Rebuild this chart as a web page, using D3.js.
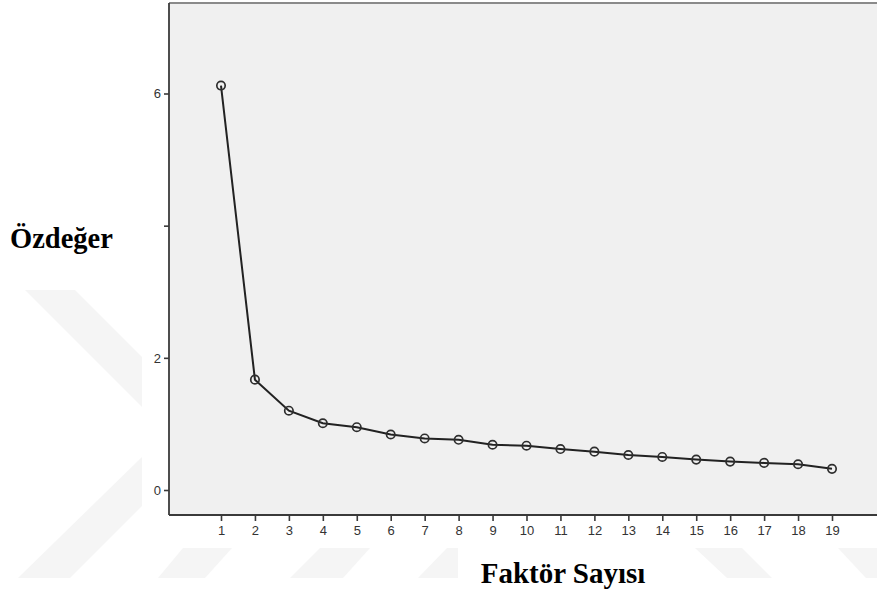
<!DOCTYPE html>
<meta charset="utf-8">
<style>
body { margin: 0; background: #fff; }
.tick text { font-family: "Liberation Sans", Arial, sans-serif; font-size: 13px; fill: #333; }
.axlabel { font-family: "Liberation Serif", "Times New Roman", serif; font-weight: bold; fill: #000; }
</style>
<svg width="877" height="592"></svg>
<script src="https://cdn.jsdelivr.net/npm/d3@7"></script>
<script>
// scree plot values
var factors = [1,2,3,4,5,6,7,8,9,10,11,12,13,14,15,16,17,18,19]
var eigen = [6.12,1.67,1.20,1.01,0.95,0.84,0.78,0.76,0.685,0.67,0.62,0.58,0.53,0.50,0.46,0.43,0.41,0.39,0.32]
var yTicks = [0,2,4,6]
var yTickLabels = ["0","2","","6"]

const svg = d3.select('svg')

// faint watermark bands behind everything
var marks = [
  [[25,290],[75,290],[142,357],[142,407]],
  [[18,578],[70,578],[142,506],[142,457]],
  [[183,548],[232,548],[205,578],[158,578]],
  [[320,548],[370,548],[343,578],[290,578]],
  [[447,548],[458,548],[458,578],[418,578]],
  [[695,548],[742,548],[772,578],[727,578]],
  [[838,548],[877,548],[877,578],[866,578]]
]
svg.append('g').selectAll('path')
  .data(marks)
  .enter().append('path')
  .attr('d', p => 'M' + p.join('L') + 'Z')
  .attr('fill', '#f5f5f5')

const pLeft = 169, pTop = 3, pRight = 880, pBottom = 515

const x = d3.scaleLinear().domain([1,19]).range([221, 832])
const y = d3.scaleLinear().domain([0,6]).range([490, 93.5])

// plot area
svg.append('rect')
  .attr('x', pLeft).attr('y', pTop)
  .attr('width', pRight-pLeft).attr('height', pBottom-pTop)
  .attr('fill', '#f0f0f0')

svg.append('line')
  .attr('x1', pLeft).attr('x2', pRight)
  .attr('y1', pTop).attr('y2', pTop)
  .attr('stroke', '#8a8a8a').attr('stroke-width', 2)

const yAxis = svg.append('g')
  .attr('transform', 'translate(' + pLeft + ',0)')
  .call(d3.axisLeft(y).tickValues(yTicks).tickSize(5).tickPadding(3)
    .tickFormat((d,i) => yTickLabels[i]))
yAxis.select('.domain').attr('d', 'M0,' + pTop + 'V' + pBottom)

const xAxis = svg.append('g')
  .attr('transform', 'translate(0,' + pBottom + ')')
  .call(d3.axisBottom(x).tickValues(factors).tickSize(6).tickPadding(5)
    .tickFormat(d3.format('d')))
xAxis.select('.domain').attr('d', 'M' + pLeft + ',0H' + pRight)

svg.selectAll('.domain').attr('stroke', '#3a3a3a').attr('stroke-width', 1.8)
svg.selectAll('.tick line').attr('stroke', '#3a3a3a').attr('stroke-width', 1.6)
svg.selectAll('.tick text').attr('fill', '#333')

// line + markers
const line = d3.line().x((d,i) => x(factors[i])).y(d => y(d))
svg.append('path')
  .datum(eigen)
  .attr('d', line)
  .attr('fill', 'none')
  .attr('stroke', '#222')
  .attr('stroke-width', 2)

svg.append('g').selectAll('circle')
  .data(eigen)
  .enter().append('circle')
  .attr('cx', (d,i) => x(factors[i]))
  .attr('cy', d => y(d))
  .attr('r', 4.2)
  .attr('fill', 'none')
  .attr('stroke', '#2e2e2e')
  .attr('stroke-width', 1.7)

// axis titles
svg.append('text')
  .attr('class', 'axlabel')
  .attr('x', 10).attr('y', 248)
  .attr('font-size', 28.5)
  .text('Özdeğer')

svg.append('text')
  .attr('class', 'axlabel')
  .attr('x', 563).attr('y', 583)
  .attr('text-anchor', 'middle')
  .attr('font-size', 29)
  .text('Faktör Sayısı')
</script>
